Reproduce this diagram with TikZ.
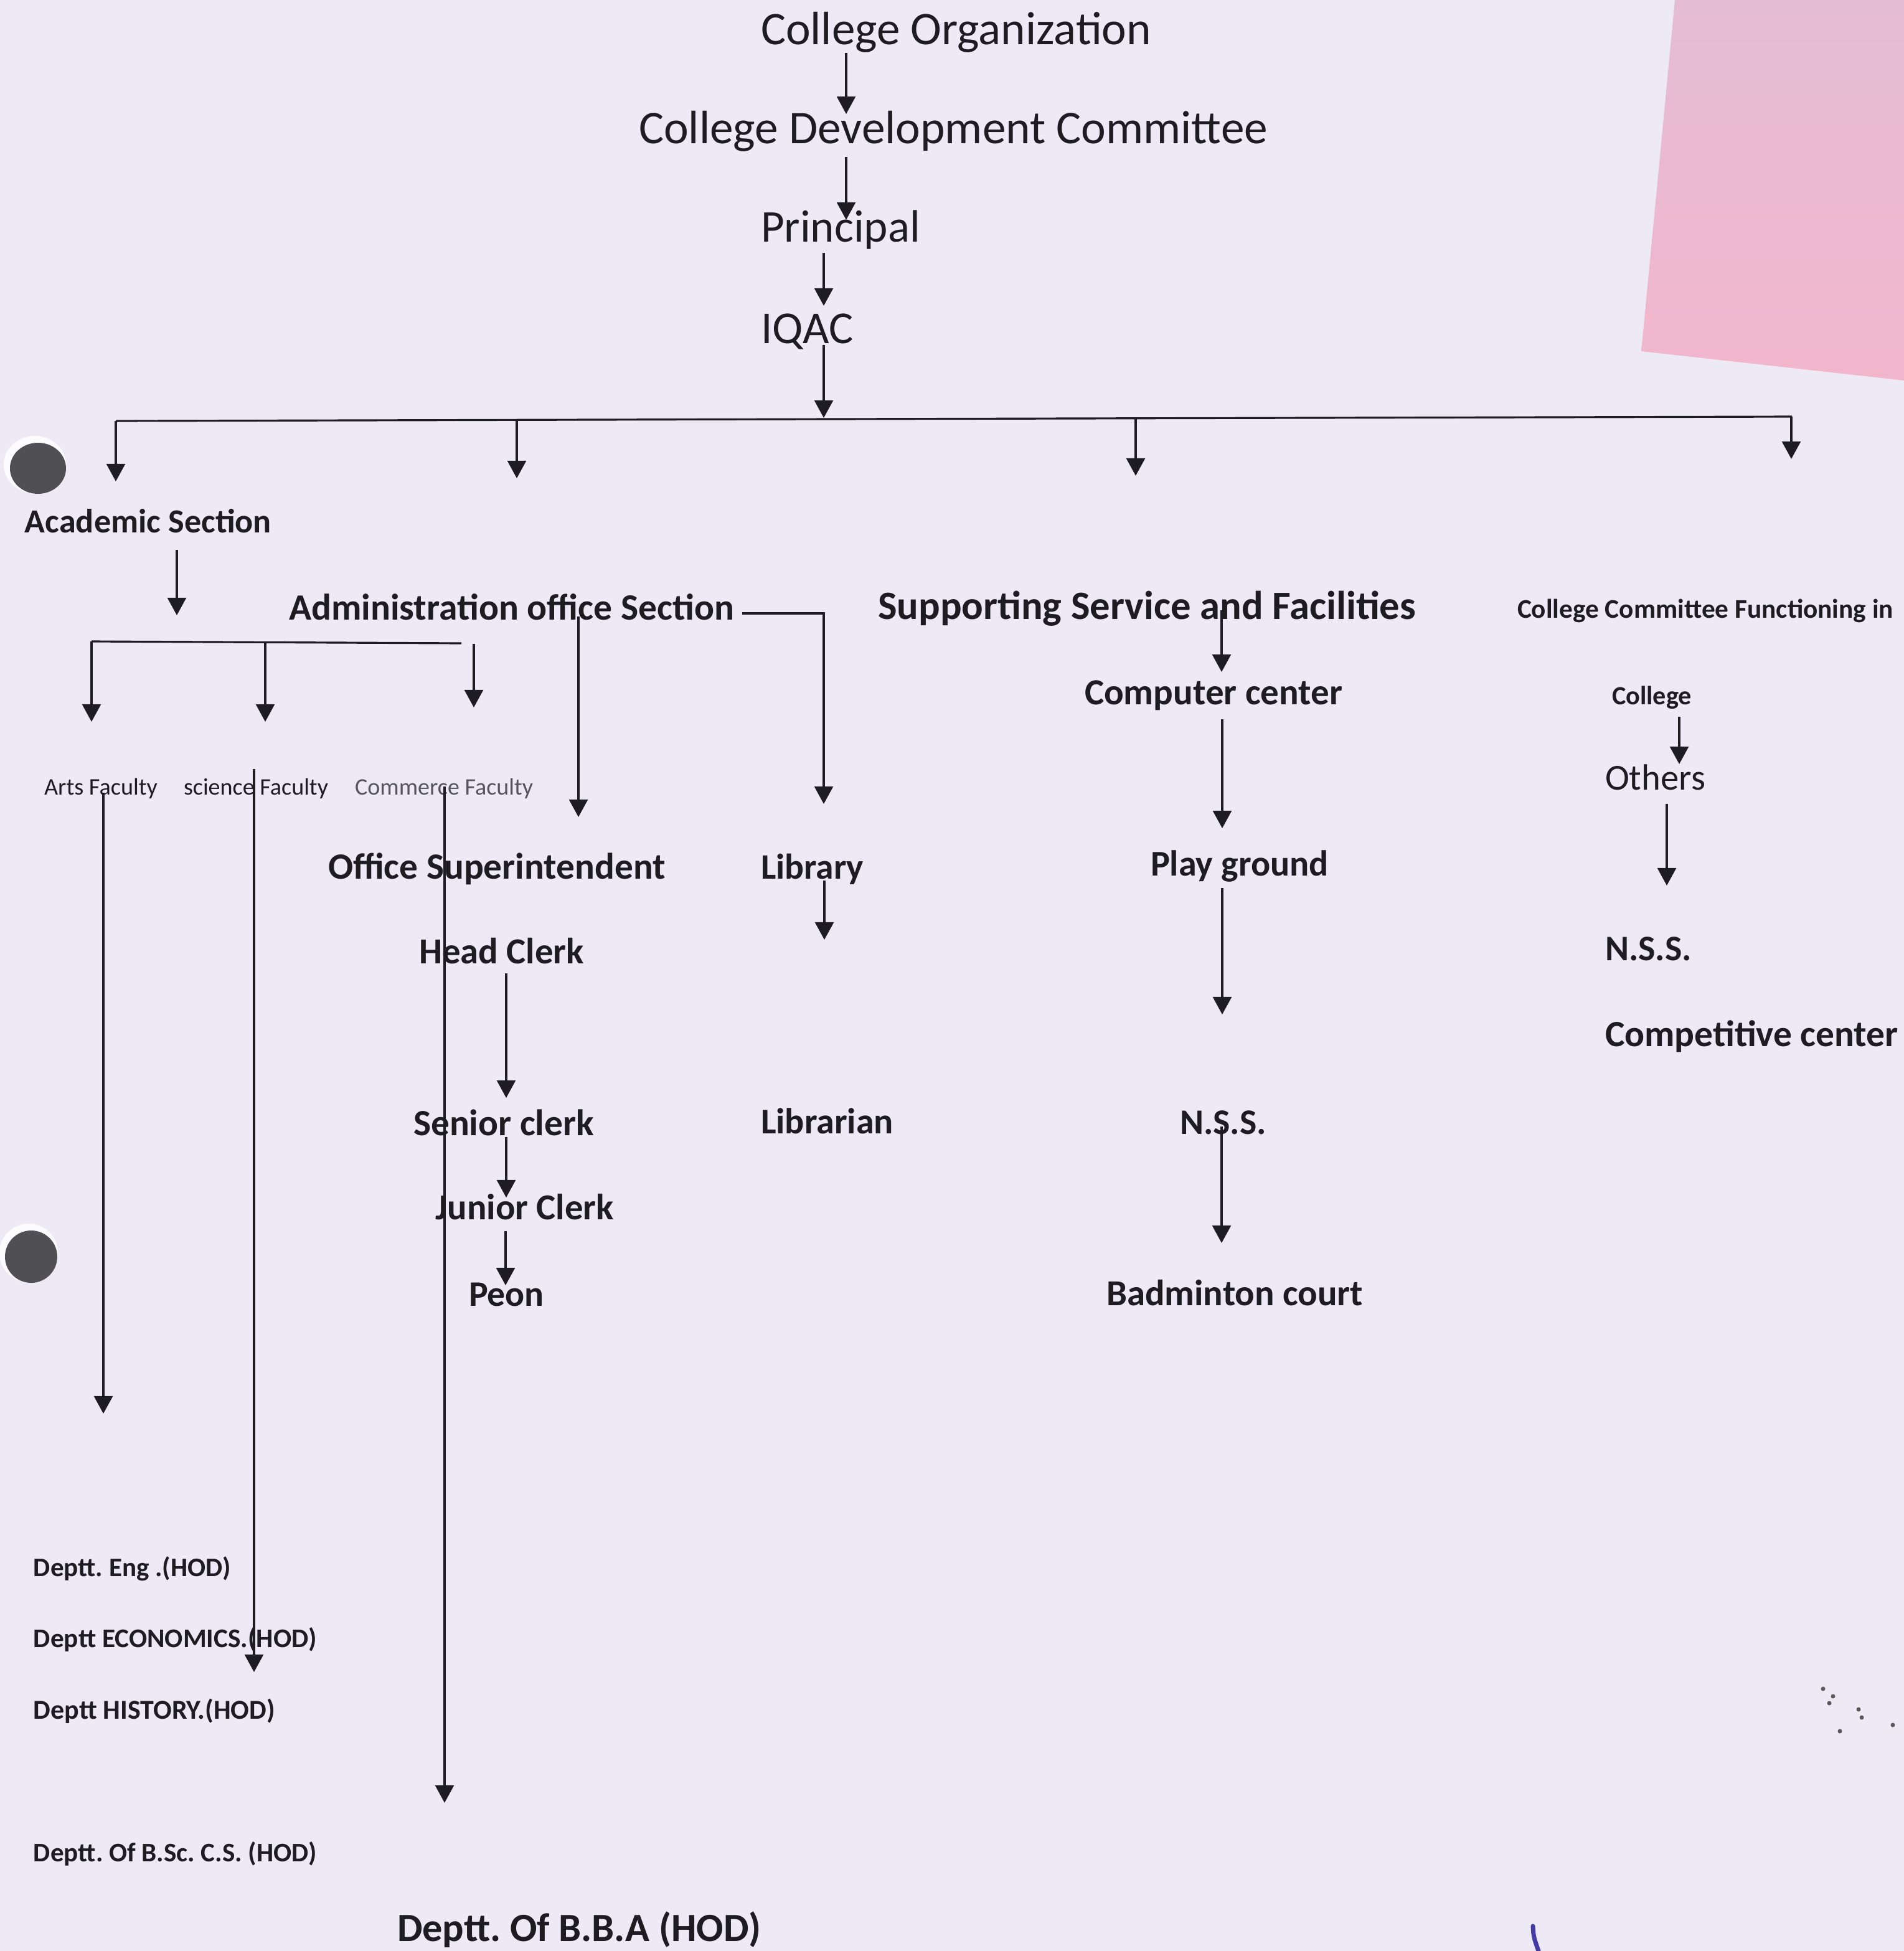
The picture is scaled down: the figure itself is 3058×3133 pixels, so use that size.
\documentclass[tikz,border=0pt]{standalone}
\usepackage{fontspec}
\setmainfont{Carlito}
\usetikzlibrary{arrows.meta}
\frenchspacing
\definecolor{paper}{RGB}{237,234,246}
\definecolor{ink}{RGB}{28,28,34}
\definecolor{inkgray}{RGB}{85,85,95}
\definecolor{notetop}{RGB}{228,188,212}
\definecolor{notebot}{RGB}{242,182,204}
\definecolor{hole}{RGB}{80,80,84}
\definecolor{pen}{RGB}{70,60,165}
\newlength\wu \setlength\wu{0.01cm}
\newcommand{\fw}[2]{\resizebox{#1\wu}{!}{#2}}
\tikzset{
  lbl/.style={anchor=base west, inner sep=0pt, outer sep=0pt, text=ink},
  arr/.style={draw=ink, line width=0.9pt, -{Triangle[length=8pt,width=8.5pt]}},
  ln/.style={draw=ink, line width=0.9pt}
}
\begin{document}
\begin{tikzpicture}[x=0.01cm, y=-0.01cm]
\useasboundingbox (0,0) rectangle (3058,3133);
\fill[paper] (0,0) rectangle (3058,3133);
% sticky note
\shade[top color=notetop, bottom color=notebot] (2690,0) -- (2636,564) -- (3058,611) -- (3058,0) -- cycle;
% punch holes
\fill[white!85!paper] (56,746) ellipse [x radius=50, y radius=46];
\fill[hole] (61,752) ellipse [x radius=45, y radius=41];
\fill[white!85!paper] (46,2012) circle [radius=47];
\fill[hole] (50,2018) circle [radius=42];
% pen mark and specks
\draw[pen, line width=2pt, line cap=round] (2462,3093) .. controls (2463,3110) .. (2471,3133);
\foreach \p in {(2928,2712),(2944,2724),(2938,2735),(2985,2745),(2990,2758),(3040,2770),(2955,2780)}
  \fill[gray!70!black] \p circle [radius=3.5];

% ---- texts ----
\node[lbl] (co)   at (1222,71)  {\fw{627}{College Organization}};
\node[lbl] (cdc)  at (1026,230) {\fw{1010}{College Development Committee}};
\node[lbl] (prin) at (1222,388) {\fw{256}{Principal}};
\node[lbl] (iqac) at (1222,551) {\fw{149}{IQAC}};
\node[lbl] (acad) at (40,855)   {\fw{396}{\textbf{Academic Section}}};
\node[lbl] (admin) at (464,995) {\fw{715}{\textbf{Administration office Section}}};
\node[lbl] (supp) at (1410,994) {\fw{864}{\textbf{Supporting Service and Facilities}}};
\node[lbl] (ccf)  at (2437,992) {\fw{604}{\textbf{College Committee Functioning in}}};
\node[lbl] (arts) at (71,1276)  {\fw{182}{Arts Faculty}};
\node[lbl] (sci)  at (295,1276) {\fw{232}{science Faculty}};
\node[lbl,text=inkgray] (comm) at (570,1276) {\fw{286}{Commerce Faculty}};
\node[lbl] (comp) at (1742,1131) {\fw{414}{\textbf{Computer center}}};
\node[lbl] (coll) at (2589,1131) {\fw{128}{\textbf{College}}};
\node[lbl] (oth)  at (2578,1268) {\fw{161}{Others}};
\node[lbl] (osup) at (527,1411) {\fw{542}{\textbf{Office Superintendent}}};
\node[lbl] (lib)  at (1222,1411) {\fw{165}{\textbf{Library}}};
\node[lbl] (play) at (1848,1406) {\fw{286}{\textbf{Play ground}}};
\node[lbl] (nssr) at (2578,1542) {\fw{139}{\textbf{N.S.S.}}};
\node[lbl] (hc)   at (673,1547) {\fw{265}{\textbf{Head Clerk}}};
\node[lbl] (cmpc) at (2578,1680) {\fw{471}{\textbf{Competitive center}}};
\node[lbl] (sc)   at (664,1823) {\fw{290}{\textbf{Senior clerk}}};
\node[lbl] (libn) at (1222,1820) {\fw{213}{\textbf{Librarian}}};
\node[lbl] (nssm) at (1895,1821) {\fw{139}{\textbf{N.S.S.}}};
\node[lbl] (jc)   at (699,1958) {\fw{287}{\textbf{Junior Clerk}}};
\node[lbl] (peon) at (753,2097) {\fw{121}{\textbf{Peon}}};
\node[lbl] (bad)  at (1777,2096) {\fw{412}{\textbf{Badminton court}}};
\node[lbl] (eng)  at (54,2531)  {\fw{317}{\textbf{Deptt. Eng .(HOD)}}};
\node[lbl] (eco)  at (54,2645)  {\fw{455}{\textbf{Deptt ECONOMICS.(HOD)}}};
\node[lbl] (his)  at (54,2760)  {\fw{388}{\textbf{Deptt HISTORY.(HOD)}}};
\node[lbl] (bsc)  at (54,2989)  {\fw{455}{\textbf{Deptt. Of B.Sc. C.S. (HOD)}}};
\node[lbl] (bba)  at (638,3117) {\fw{585}{\textbf{Deptt. Of B.B.A (HOD)}}};

% ---- connectors ----
\draw[arr] (1359,85) -- (1359,183);
\draw[arr] (1359,252) -- (1359,353);
\draw[arr] (1323,406) -- (1323,491);
\draw[arr] (1323,554) -- (1323,671);
% main bus
\coordinate (bL) at (186,676);
\coordinate (bR) at (2878,669);
\draw[ln] (bL) -- (bR);
\draw[arr] (186,676) -- (186,773);
\draw[arr] (830,674.5) -- (830,768);
\draw[arr] (1824,672) -- (1824,764);
\draw[arr] (2877,669) -- (2877,737);
% academic
\draw[arr] (284,883) -- (284,988);
\draw[ln] (147,1030) -- (741,1033);
\draw[arr] (147,1030) -- (147,1159);
\draw[arr] (426,1031.5) -- (426,1159);
\draw[arr] (761,1034) -- (761,1136);
% faculties to departments
\draw[arr] (166,1273) -- (166,2270);
\draw[arr] (408,1235) -- (408,2685);
\draw[arr] (714,1263) -- (714,2895);
% administration
\draw[arr] (929,990) -- (929,1312);
\draw[arr] (1192,985) -- (1323,985) -- (1323,1291);
\draw[arr] (1324,1414) -- (1324,1509);
\draw[arr] (813,1563) -- (813,1763);
\draw[arr] (813,1826) -- (813,1923);
\draw[arr] (812,1977) -- (812,2064);
% supporting
\draw[arr] (1962,980) -- (1962,1079);
\draw[arr] (1963,1155) -- (1963,1330);
\draw[arr] (1963,1426) -- (1963,1629);
\draw[arr] (1962,1809) -- (1962,1996);
% committees
\draw[arr] (2697,1151) -- (2697,1227);
\draw[arr] (2677,1291) -- (2677,1422);
\end{tikzpicture}
\end{document}
